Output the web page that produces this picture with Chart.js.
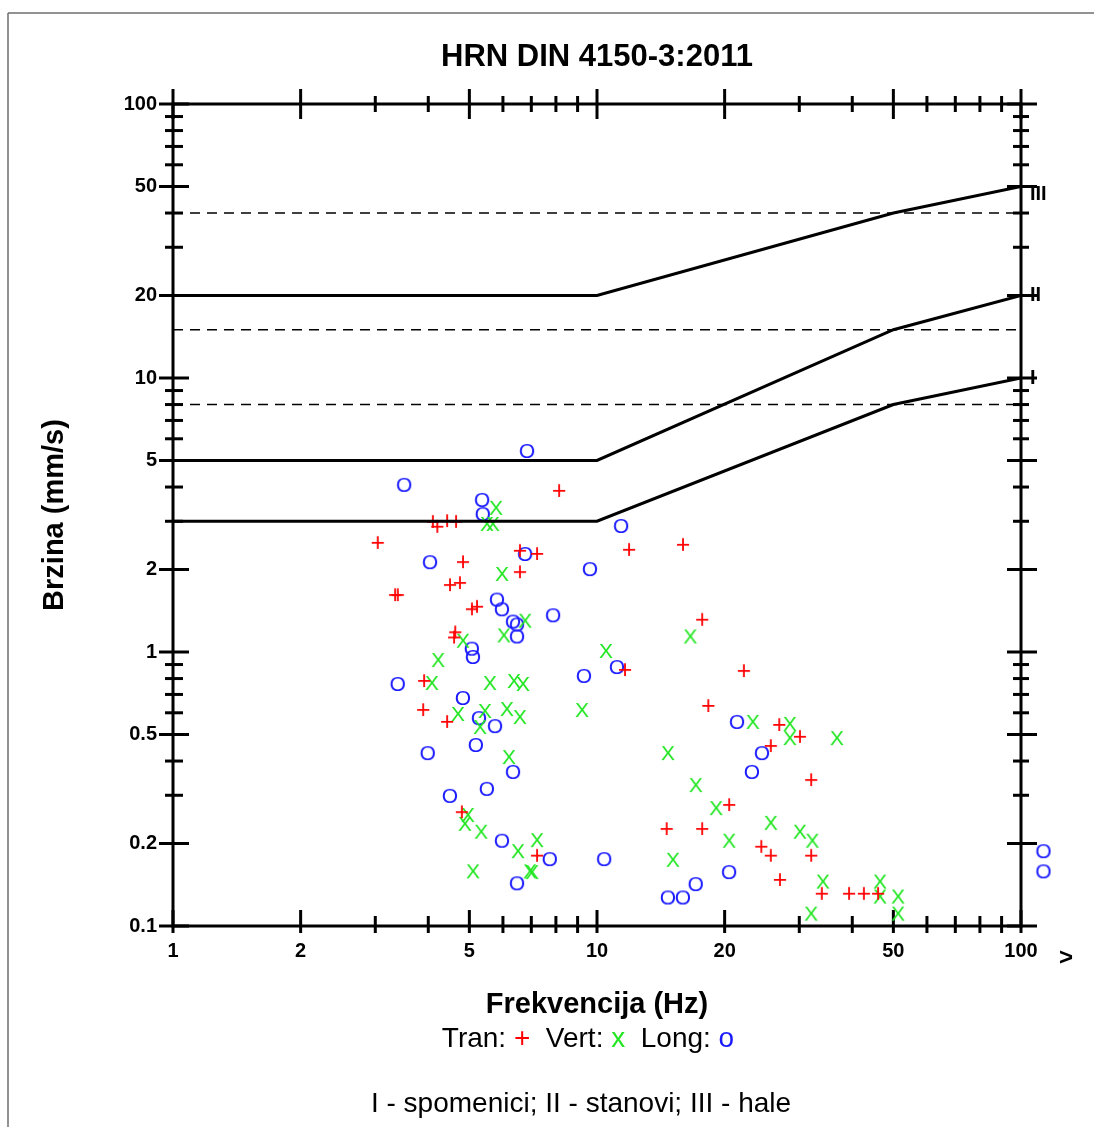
<!DOCTYPE html>
<html>
<head>
<meta charset="utf-8">
<script src="https://cdn.jsdelivr.net/npm/chart.js@4"></script>
<style>
  body { margin: 0; background: #fff; }
  canvas { display: block; }
</style>
</head>
<body>
<canvas id="vibChart" width="1094" height="1127"></canvas>
<script>
(function () {
    "use strict";

    // naslovi
    const chartTitle = "HRN DIN 4150-3:2011";
    const xTitle = "Frekvencija (Hz)";
    const yTitle = "Brzina (mm/s)";
    const footerText = "I - spomenici; II - stanovi; III - hale";
    const overRangeMark = ">";

    // serije: Tran / Vert / Long
    const seriesNames = ["Tran", "Vert", "Long"];
    const seriesSymbols = ["+", "x", "o"];
    const plotSymbols = ["+", "X", "O"];
    const seriesColors = ["#ff0000", "#22e622", "#1a1aff"];

    const tranFreq = [8.14, 4.10, 4.20, 4.43, 4.65, 3.04, 11.9, 15.95, 6.58, 7.22, 4.83, 6.58, 4.50, 4.75, 3.34, 3.39, 5.07, 5.21, 17.7, 4.63, 4.60, 11.64, 22.2, 3.91, 18.3, 3.89, 4.43, 26.9, 30.1, 25.7, 32.0, 20.5, 4.80, 14.6, 17.7, 24.4, 25.7, 32.0, 7.22, 27.0, 33.9, 39.3, 42.6, 46.0];
    const tranVel = [3.84, 2.96, 2.84, 2.98, 2.96, 2.48, 2.34, 2.44, 2.32, 2.26, 2.11, 1.94, 1.74, 1.77, 1.60, 1.60, 1.42, 1.45, 1.30, 1.17, 1.12, 0.852, 0.845, 0.777, 0.630, 0.609, 0.551, 0.537, 0.486, 0.450, 0.338, 0.274, 0.258, 0.224, 0.224, 0.193, 0.179, 0.179, 0.179, 0.146, 0.130, 0.130, 0.130, 0.130];

    const vertFreq = [5.78, 5.50, 5.68, 5.97, 6.77, 6.03, 4.83, 16.6, 10.5, 4.22, 4.08, 5.59, 6.37, 6.69, 4.70, 5.44, 5.30, 6.13, 6.58, 9.22, 23.3, 28.5, 28.5, 36.8, 14.7, 6.20, 17.1, 19.1, 4.96, 4.88, 5.33, 25.7, 30.1, 32.2, 20.5, 7.22, 6.51, 15.1, 5.10, 6.95, 7.03, 34.1, 46.5, 46.5, 51.3, 32.0, 51.3];
    const vertVel = [3.33, 2.91, 2.91, 1.91, 1.29, 1.14, 1.09, 1.13, 1.0, 0.927, 0.764, 0.764, 0.777, 0.758, 0.589, 0.604, 0.528, 0.614, 0.574, 0.609, 0.551, 0.542, 0.481, 0.481, 0.424, 0.410, 0.324, 0.267, 0.252, 0.234, 0.219, 0.236, 0.219, 0.203, 0.203, 0.204, 0.186, 0.173, 0.157, 0.157, 0.156, 0.144, 0.144, 0.127, 0.127, 0.110, 0.110];

    // zadnje dvije tocke su iznad 100 Hz (">")
    const longFreq = [6.84, 3.51, 5.36, 5.38, 11.4, 6.77, 4.04, 9.63, 5.81, 5.97, 7.88, 6.34, 6.48, 6.48, 5.07, 5.10, 11.15, 9.32, 3.39, 4.83, 5.27, 5.75, 21.4, 24.5, 23.2, 5.18, 3.99, 6.34, 5.50, 4.50, 5.97, 7.74, 10.4, 20.5, 17.1, 14.7, 15.95, 6.48, 113, 113];
    const longVel = [5.37, 4.04, 3.56, 3.16, 2.86, 2.26, 2.11, 1.99, 1.54, 1.42, 1.35, 1.28, 1.25, 1.13, 1.02, 0.951, 0.874, 0.811, 0.758, 0.674, 0.569, 0.532, 0.551, 0.424, 0.362, 0.454, 0.424, 0.362, 0.314, 0.296, 0.203, 0.174, 0.174, 0.156, 0.141, 0.126, 0.126, 0.142, 0.186, 0.157];

    // granicne krivulje I, II, III
    const limitNames = ["I", "II", "III"];
    const limitFreq = [1, 10, 50, 100];
    const limitI = [3, 3, 8, 10];
    const limitII = [5, 5, 15, 20];
    const limitIII = [20, 20, 40, 50];
    const dashFreq = [1, 100];
    const dashLevels = [8, 15, 40];

    // osi
    const xTickValues = [1, 2, 3, 4, 5, 6, 7, 8, 9, 10, 20, 30, 40, 50, 60, 70, 80, 90, 100];
    const xLabelValues = [1, 2, 5, 10, 20, 50, 100];
    const xLabelTexts = ["1", "2", "5", "10", "20", "50", "100"];
    const yTickValues = [0.1, 0.2, 0.3, 0.4, 0.5, 0.6, 0.7, 0.8, 0.9, 1, 2, 3, 4, 5, 6, 7, 8, 9, 10, 20, 30, 40, 50, 60, 70, 80, 90, 100];
    const yLabelValues = [0.1, 0.2, 0.5, 1, 2, 5, 10, 20, 50, 100];
    const yLabelTexts = ["0.1", "0.2", "0.5", "1", "2", "5", "10", "20", "50", "100"];

    const FONT = '"Liberation Sans", Arial, sans-serif';

    function pts(xs, ys) {
        return xs.map(function (x, i) { return {x: x, y: ys[i]}; });
    }

    // znak kao oznaka tocke
    function makeGlyph(ch, color, size) {
        const c = document.createElement("canvas");
        c.width = 28;
        c.height = 28;
        const g = c.getContext("2d");
        g.font = size + "px " + FONT;
        g.fillStyle = color;
        g.textAlign = "center";
        g.textBaseline = "middle";
        g.fillText(ch, 14, 14);
        return c;
    }

    function line(ctx, x1, y1, x2, y2) {
        ctx.beginPath();
        ctx.moveTo(x1, y1);
        ctx.lineTo(x2, y2);
        ctx.stroke();
    }

    const framePlugin = {
        id: "framePlugin",
        beforeDraw: function (chart) {
            const ctx = chart.ctx;
            ctx.save();
            ctx.fillStyle = "#fff";
            ctx.fillRect(0, 0, chart.width, chart.height);
            ctx.strokeStyle = "#6e6e6e";
            ctx.lineWidth = 1.5;
            line(ctx, 8, 13, chart.width, 13);
            line(ctx, 8, 13, 8, chart.height);
            ctx.restore();
        },
        beforeDatasetsDraw: function (chart) {
            const ctx = chart.ctx;
            const a = chart.chartArea;
            const xs = chart.scales.x, ys = chart.scales.y;
            ctx.save();
            ctx.strokeStyle = "#000";
            ctx.lineWidth = 3;
            ctx.strokeRect(a.left, a.top, a.right - a.left, a.bottom - a.top);
            xTickValues.forEach(function (v) {
                const px = xs.getPixelForValue(v);
                const major = xLabelValues.indexOf(v) >= 0;
                line(ctx, px, a.bottom + 7, px, a.bottom - (major ? 16 : 10));
                line(ctx, px, a.top - (major ? 15 : 8), px, a.top + (major ? 15 : 8));
            });
            yTickValues.forEach(function (v) {
                const py = ys.getPixelForValue(v);
                const major = yLabelValues.indexOf(v) >= 0;
                line(ctx, a.left - (major ? 14 : 8), py, a.left + (major ? 16 : 10), py);
                line(ctx, a.right - (major ? 14 : 8), py, a.right + (major ? 16 : 8), py);
            });
            ctx.restore();
        },
        afterDraw: function (chart) {
            const ctx = chart.ctx;
            const a = chart.chartArea;
            const ys = chart.scales.y;
            ctx.save();
            ctx.fillStyle = "#000";
            ctx.textBaseline = "middle";

            // oznake krivulja
            ctx.font = "bold 20px " + FONT;
            ctx.textAlign = "left";
            const ends = [limitI, limitII, limitIII];
            const shift = [0, 0, 8];
            ends.forEach(function (arr, i) {
                ctx.fillText(limitNames[i], a.right + 9, ys.getPixelForValue(arr[arr.length - 1]) + shift[i]);
            });

            // ">" desno od 100
            ctx.font = "bold 24px " + FONT;
            ctx.textAlign = "center";
            ctx.fillText(overRangeMark, a.right + 45, a.bottom + 32);

            // legenda
            ctx.font = "28px " + FONT;
            const pieces = [];
            seriesNames.forEach(function (n, i) {
                pieces.push([(i ? "  " : "") + n + ": ", "#000"]);
                pieces.push([seriesSymbols[i], seriesColors[i]]);
            });
            let total = 0;
            pieces.forEach(function (p) { total += ctx.measureText(p[0]).width; });
            let x = 588 - total / 2;
            ctx.textAlign = "left";
            pieces.forEach(function (p) {
                ctx.fillStyle = p[1];
                ctx.fillText(p[0], x, 1039);
                x += ctx.measureText(p[0]).width;
            });

            // podnozje
            ctx.fillStyle = "#000";
            ctx.font = "28px " + FONT;
            ctx.textAlign = "center";
            ctx.fillText(footerText, 581, 1104);
            ctx.restore();
        }
    };

    const datasets = [];
    [limitI, limitII, limitIII].forEach(function (arr) {
        datasets.push({
            data: pts(limitFreq, arr),
            showLine: true,
            borderColor: "#000",
            borderWidth: 3,
            pointRadius: 0,
            fill: false
        });
    });
    dashLevels.forEach(function (lvl) {
        datasets.push({
            data: pts(dashFreq, dashFreq.map(function () { return lvl; })),
            showLine: true,
            borderColor: "#000",
            borderWidth: 1.5,
            borderDash: [10, 7],
            pointRadius: 0,
            fill: false
        });
    });
    const glyphSizes = [25, 21, 21];
    [[tranFreq, tranVel], [vertFreq, vertVel], [longFreq, longVel]].forEach(function (s, i) {
        datasets.push({
            label: seriesNames[i],
            data: pts(s[0], s[1]),
            showLine: false,
            pointStyle: makeGlyph(plotSymbols[i], seriesColors[i], glyphSizes[i]),
            pointRadius: 30,
            clip: false
        });
    });

    const ctx = document.getElementById("vibChart");
    const myChart = new Chart(ctx, {
        type: "scatter",
        data: {datasets: datasets},
        plugins: [framePlugin],
        options: {
            responsive: false,
            animation: false,
            devicePixelRatio: 1,
            events: [],
            layout: {padding: {left: 0, top: 0, right: 73, bottom: 101}},
            plugins: {
                legend: {display: false},
                tooltip: {enabled: false},
                title: {
                    display: true,
                    text: chartTitle,
                    fullSize: false,
                    color: "#000",
                    font: {family: FONT, size: 31, weight: "bold"},
                    padding: {top: 38.4, bottom: 28.4}
                }
            },
            scales: {
                x: {
                    type: "logarithmic",
                    position: "bottom",
                    min: 1,
                    max: 100,
                    grid: {display: false, drawTicks: false},
                    border: {display: false},
                    afterBuildTicks: function (scale) {
                        scale.ticks = xTickValues.map(function (v) { return {value: v}; });
                    },
                    afterFit: function (scale) { scale.height = 100; },
                    ticks: {
                        autoSkip: false,
                        maxRotation: 0,
                        padding: 13,
                        color: "#000",
                        font: {family: FONT, size: 20, weight: "bold"},
                        callback: function (v) {
                            const i = xLabelValues.indexOf(v);
                            return i >= 0 ? xLabelTexts[i] : "";
                        }
                    },
                    title: {
                        display: true,
                        text: xTitle,
                        color: "#000",
                        font: {family: FONT, size: 29, weight: "bold"},
                        padding: {top: 0, bottom: 3.6}
                    }
                },
                y: {
                    type: "logarithmic",
                    position: "left",
                    min: 0.1,
                    max: 100,
                    grid: {display: false, drawTicks: false},
                    border: {display: false},
                    afterBuildTicks: function (scale) {
                        scale.ticks = yTickValues.map(function (v) { return {value: v}; });
                    },
                    afterFit: function (scale) { scale.width = 173; },
                    ticks: {
                        autoSkip: false,
                        padding: 16,
                        color: "#000",
                        font: {family: FONT, size: 20, weight: "bold"},
                        callback: function (v) {
                            const i = yLabelValues.indexOf(v);
                            return i >= 0 ? yLabelTexts[i] : "";
                        }
                    },
                    title: {
                        display: true,
                        text: yTitle,
                        color: "#000",
                        font: {family: FONT, size: 29, weight: "bold"},
                        padding: {top: 37.6, bottom: 0}
                    }
                }
            }
        }
    });
})();
</script>
</body>
</html>
